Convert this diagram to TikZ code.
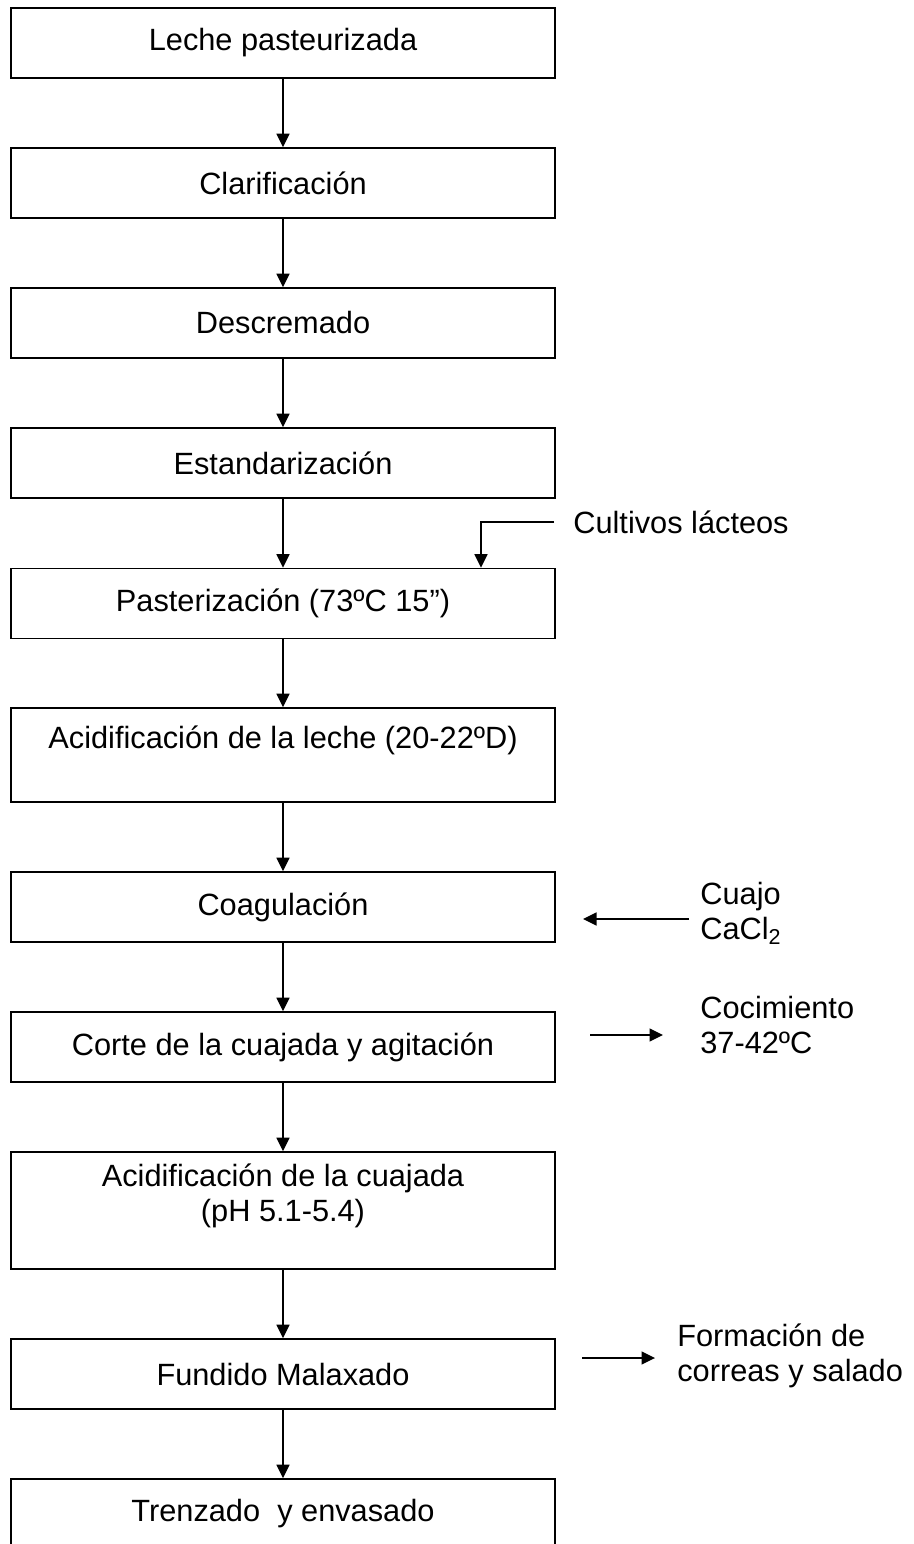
\documentclass[tikz,border=0pt]{standalone}
\usepackage{fontspec}
\setmainfont{Liberation Sans}
\usetikzlibrary{arrows.meta}

\begin{document}
\begin{tikzpicture}[x=0.02cm, y=-0.02cm,
    etapa/.style={draw, line width=0.9pt, minimum width=10.88cm, minimum height=1.4cm,
        align=center, inner sep=0pt, font=\fontsize{17.5}{20}\selectfont},
    nota/.style={anchor=west, align=left, inner sep=0pt, font=\fontsize{17.5}{20}\selectfont},
    flecha/.style={-{Triangle[length=0.27cm, width=0.26cm]}, line width=0.75pt}]
    \useasboundingbox (0,0) rectangle (913,1544);

    % etapas del proceso
    \node[etapa] (leche) at (283,43) {Leche pasteurizada};
    \node[etapa] (clarif) at (283,183) {Clarificación};
    \node[etapa] (descrem) at (283,323) {Descremado};
    \node[etapa] (estand) at (283,463) {Estandarización};
    \node[etapa] (pasteur) at (283,603.5) {Pasterización (73ºC 15”)};
    \node[etapa, minimum height=1.88cm] (acidleche) at (283,755) {Acidificación de la leche (20-22ºD)\\ \mbox{}};
    \node[etapa] (coag) at (283,907) {Coagulación};
    \node[etapa] (corte) at (283,1047) {Corte de la cuajada y agitación};
    \node[etapa, minimum height=2.34cm] (acidcuaj) at (283,1210.5) {Acidificación de la cuajada\\(pH 5.1-5.4)\\ \mbox{}};
    \node[etapa] (fundido) at (283,1374) {Fundido Malaxado};
    \node[etapa] (trenzado) at (283,1514) {Trenzado\ \ y envasado};

    \foreach \a/\b in {leche/clarif, clarif/descrem, descrem/estand, estand/pasteur,
        pasteur/acidleche, acidleche/coag, coag/corte, corte/acidcuaj,
        acidcuaj/fundido, fundido/trenzado}
        \draw[flecha] (\a.south) -- (\b.north);

    % entradas y salidas
    \node[nota] (cultivos) at (573,522) {Cultivos lácteos};
    \coordinate (cultini) at (554,522);
    \draw[flecha] (cultini) -| ([xshift=3.96cm]pasteur.north);

    \node[nota] (cuajo) at (700,913) {Cuajo\\CaCl\textsubscript{2}};
    \coordinate (cuajoini) at (689,919);
    \coordinate (cuajofin) at (583,919);
    \draw[flecha] (cuajoini) -- (cuajofin);

    \node[nota] (cocim) at (700,1025) {Cocimiento\\37-42ºC};
    \coordinate (cocimini) at (590,1035);
    \coordinate (cocimfin) at (663,1035);
    \draw[flecha] (cocimini) -- (cocimfin);

    \node[nota] (formacion) at (677,1356) {Formación de\\correas y salado};
    \coordinate (formini) at (582,1358);
    \coordinate (formfin) at (655,1358);
    \draw[flecha] (formini) -- (formfin);
\end{tikzpicture}
\end{document}
